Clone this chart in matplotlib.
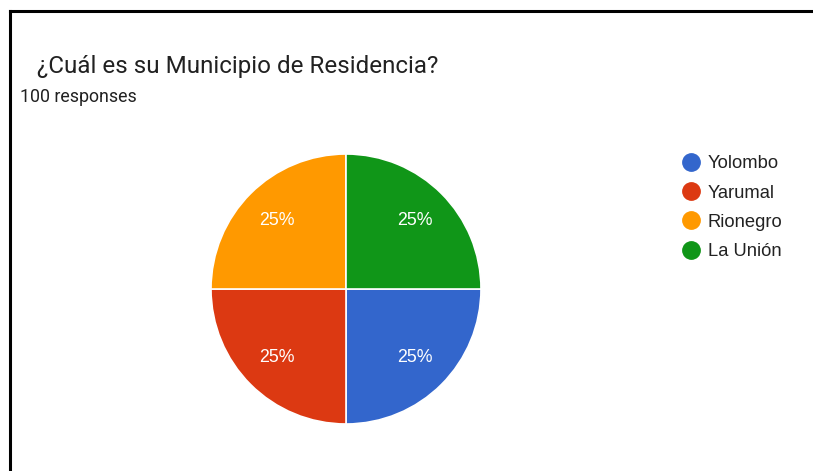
import matplotlib
matplotlib.use("Agg")
import matplotlib.pyplot as plt
from matplotlib.lines import Line2D

plt.rcParams['font.family'] = ['Roboto', 'DejaVu Sans']

title = "¿Cuál es su Municipio de Residencia?"
subtitle = "100 responses"
categories = ["Yolombo", "Yarumal", "Rionegro", "La Unión"]
values = [25, 25, 25, 25]
colors = ["#3366cc", "#dc3912", "#ff9900", "#109618"]

W, H = 813, 471
fig = plt.figure(figsize=(W / 100, H / 100), dpi=100)
fig.patch.set_facecolor("white")

# black frame (left and top edges)
fig.add_artist(Line2D([10 / W, 10 / W], [0, 1 - 10.5 / H], transform=fig.transFigure,
                      color="black", lw=2.2, solid_capstyle="projecting"))
fig.add_artist(Line2D([10 / W, 1], [1 - 10.5 / H, 1 - 10.5 / H], transform=fig.transFigure,
                      color="black", lw=2.2, solid_capstyle="projecting"))

fig.text(37 / W, 1 - 67 / H, title, fontsize=17.4, color="#212121", va="center", ha="left")
fig.text(20 / W, 1 - 97 / H, subtitle, fontsize=12.8, color="#212121", va="center", ha="left")

cx, cy, r = 346, 289, 135
ax = fig.add_axes([(cx - r) / W, 1 - (cy + r) / H, 2 * r / W, 2 * r / H])
wedges, texts, autotexts = ax.pie(
    values, colors=colors, startangle=0, counterclock=False,
    autopct=lambda p: f"{p:.0f}%", pctdistance=0.72,
    wedgeprops=dict(edgecolor="white", linewidth=1.2),
    textprops=dict(color="white", fontsize=12.8, family=["Liberation Sans", "DejaVu Sans"]),
)
ax.set_xlim(-1, 1)
ax.set_ylim(-1, 1)
ax.set_aspect("equal")
ax.axis("off")

handles = [Line2D([0], [0], marker="o", linestyle="none", markersize=12.5,
                  markerfacecolor=c, markeredgecolor=c) for c in colors]
leg = fig.legend(handles, categories, loc="upper left",
                 bbox_to_anchor=(673 / W, 1 - 148 / H), frameon=False,
                 prop=dict(family=["Liberation Sans", "DejaVu Sans"], size=13.2),
                 labelcolor="#222222", handletextpad=0.3,
                 labelspacing=0.67, handlelength=1.2, borderaxespad=0)

fig.savefig("out.png", dpi=100, facecolor="white")
